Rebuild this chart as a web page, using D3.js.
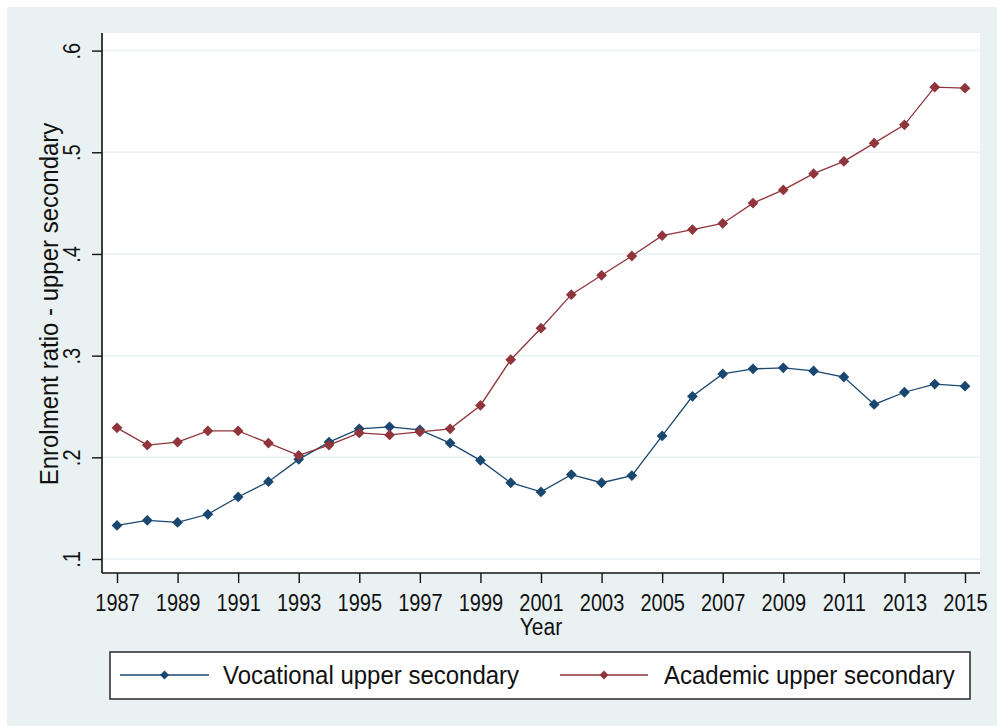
<!DOCTYPE html>
<html>
<head>
<meta charset="utf-8">
<script src="https://cdn.jsdelivr.net/npm/d3@7"></script>
<style>
  html, body { margin: 0; padding: 0; background: #ffffff; }
  svg { display: block; }
  text { font-family: "Liberation Sans", Arial, sans-serif; fill: #111; }
</style>
</head>
<body>
<script>
// ---- data ----
const years = [1987,1988,1989,1990,1991,1992,1993,1994,1995,1996,1997,1998,1999,2000,2001,2002,2003,2004,2005,2006,2007,2008,2009,2010,2011,2012,2013,2014,2015];
const vocational = [0.133,0.138,0.136,0.144,0.161,0.176,0.198,0.215,0.228,0.230,0.227,0.214,0.197,0.175,0.166,0.183,0.175,0.182,0.221,0.260,0.282,0.287,0.288,0.285,0.279,0.252,0.264,0.272,0.270];
const academic = [0.229,0.212,0.215,0.226,0.226,0.214,0.202,0.212,0.224,0.222,0.225,0.228,0.251,0.296,0.327,0.360,0.379,0.398,0.418,0.424,0.430,0.450,0.463,0.479,0.491,0.509,0.527,0.564,0.563];
const xTicks = [1987,1989,1991,1993,1995,1997,1999,2001,2003,2005,2007,2009,2011,2013,2015];
const yTicks = [0.1,0.2,0.3,0.4,0.5,0.6];
const seriesNames = ["Vocational upper secondary","Academic upper secondary"];
const seriesColors = ["#1a476f","#90353b"];
const xTitle = "Year";
const yTitle = "Enrolment ratio - upper secondary";

// ---- layout ----
const W = 997, H = 726;
const plot = {left: 102, right: 980, top: 33, bottom: 573};

const svg = d3.select("body").append("svg").attr("width", W).attr("height", H);

// outer background
svg.append("rect").attr("x", 7).attr("y", 7).attr("width", W - 7).attr("height", H - 7).attr("fill", "#e9f1f3");
// plot region
svg.append("rect").attr("x", plot.left).attr("y", plot.top)
  .attr("width", plot.right - plot.left).attr("height", plot.bottom - plot.top).attr("fill", "#ffffff");

const x = d3.scaleLinear().domain([1987, 2015]).range([117, 965]);
const y = d3.scaleLinear().domain([0.1, 0.6]).range([559, 50.6]);

// gridlines
svg.append("g").selectAll("line").data(yTicks).join("line")
  .attr("x1", plot.left).attr("x2", plot.right)
  .attr("y1", d => y(d)).attr("y2", d => y(d))
  .attr("stroke", "#eaf2f3").attr("stroke-width", 1.5);

// x axis
const xAxis = svg.append("g").attr("transform", `translate(0,${plot.bottom})`)
  .call(d3.axisBottom(x).tickValues(xTicks).tickFormat(d3.format("d")).tickSize(10).tickSizeOuter(0));
xAxis.select(".domain").attr("d", `M${plot.left},0H${plot.right}`).attr("stroke", "#111").attr("stroke-width", 1.6);
xAxis.selectAll(".tick line").attr("stroke", "#111").attr("stroke-width", 1.4);
xAxis.selectAll(".tick text")
  .attr("y", 0).attr("dy", null)
  .attr("transform", "translate(0,38) scale(1,1.18)")
  .style("font-size", "20px").style("fill", "#111");

// y axis
const yAxis = svg.append("g").attr("transform", `translate(${plot.left},0)`)
  .call(d3.axisLeft(y).tickValues(yTicks).tickFormat(d => "." + Math.round(d * 10)).tickSize(10).tickSizeOuter(0));
yAxis.select(".domain").attr("d", `M0,${plot.top}V${plot.bottom}`).attr("stroke", "#111").attr("stroke-width", 1.6);
yAxis.selectAll(".tick line").attr("stroke", "#111").attr("stroke-width", 1.4);
yAxis.selectAll(".tick text")
  .attr("x", 0).attr("dy", null).attr("y", 0)
  .attr("text-anchor", "middle")
  .attr("transform", "translate(-22,0) rotate(-90) scale(1,1.2)")
  .style("font-size", "20px").style("fill", "#111");

// axis titles
svg.append("text").text(xTitle)
  .attr("text-anchor", "middle")
  .attr("transform", `translate(${(plot.left + plot.right) / 2},635) scale(1,1.12)`)
  .style("font-size", "21px");
svg.append("text").text(yTitle)
  .attr("text-anchor", "middle")
  .attr("transform", "translate(58,304) rotate(-90) scale(1,1.05)")
  .style("font-size", "24px");

// series
const diamond = d3.symbol().type(d3.symbolSquare).size(58);
const line = d3.line().x((d, i) => x(years[i])).y(d => y(d));
[vocational, academic].forEach((vals, si) => {
  const g = svg.append("g");
  g.append("path").datum(vals).attr("d", line)
    .attr("fill", "none").attr("stroke", seriesColors[si]).attr("stroke-width", 1.3);
  g.selectAll("path.m").data(vals).join("path").attr("class", "m")
    .attr("d", diamond)
    .attr("transform", (d, i) => `translate(${x(years[i])},${y(d)}) rotate(45)`)
    .attr("fill", seriesColors[si]);
});

// legend
const leg = svg.append("g");
leg.append("rect").attr("x", 110).attr("y", 652).attr("width", 860).attr("height", 47)
  .attr("fill", "#ffffff").attr("stroke", "#333").attr("stroke-width", 1.6);
const legItems = [{x1: 120, x2: 209, tx: 223}, {x1: 560, x2: 648, tx: 664}];
legItems.forEach((it, i) => {
  leg.append("line").attr("x1", it.x1).attr("x2", it.x2).attr("y1", 675).attr("y2", 675)
    .attr("stroke", seriesColors[i]).attr("stroke-width", 1.5);
  leg.append("path").attr("d", d3.symbol().type(d3.symbolSquare).size(40)())
    .attr("transform", `translate(${(it.x1 + it.x2) / 2},675) rotate(45)`)
    .attr("fill", seriesColors[i]);
  leg.append("text").text(seriesNames[i])
    .attr("transform", `translate(${it.tx},684) scale(1,1.1)`)
    .style("font-size", "24px");
});
</script>
</body>
</html>
